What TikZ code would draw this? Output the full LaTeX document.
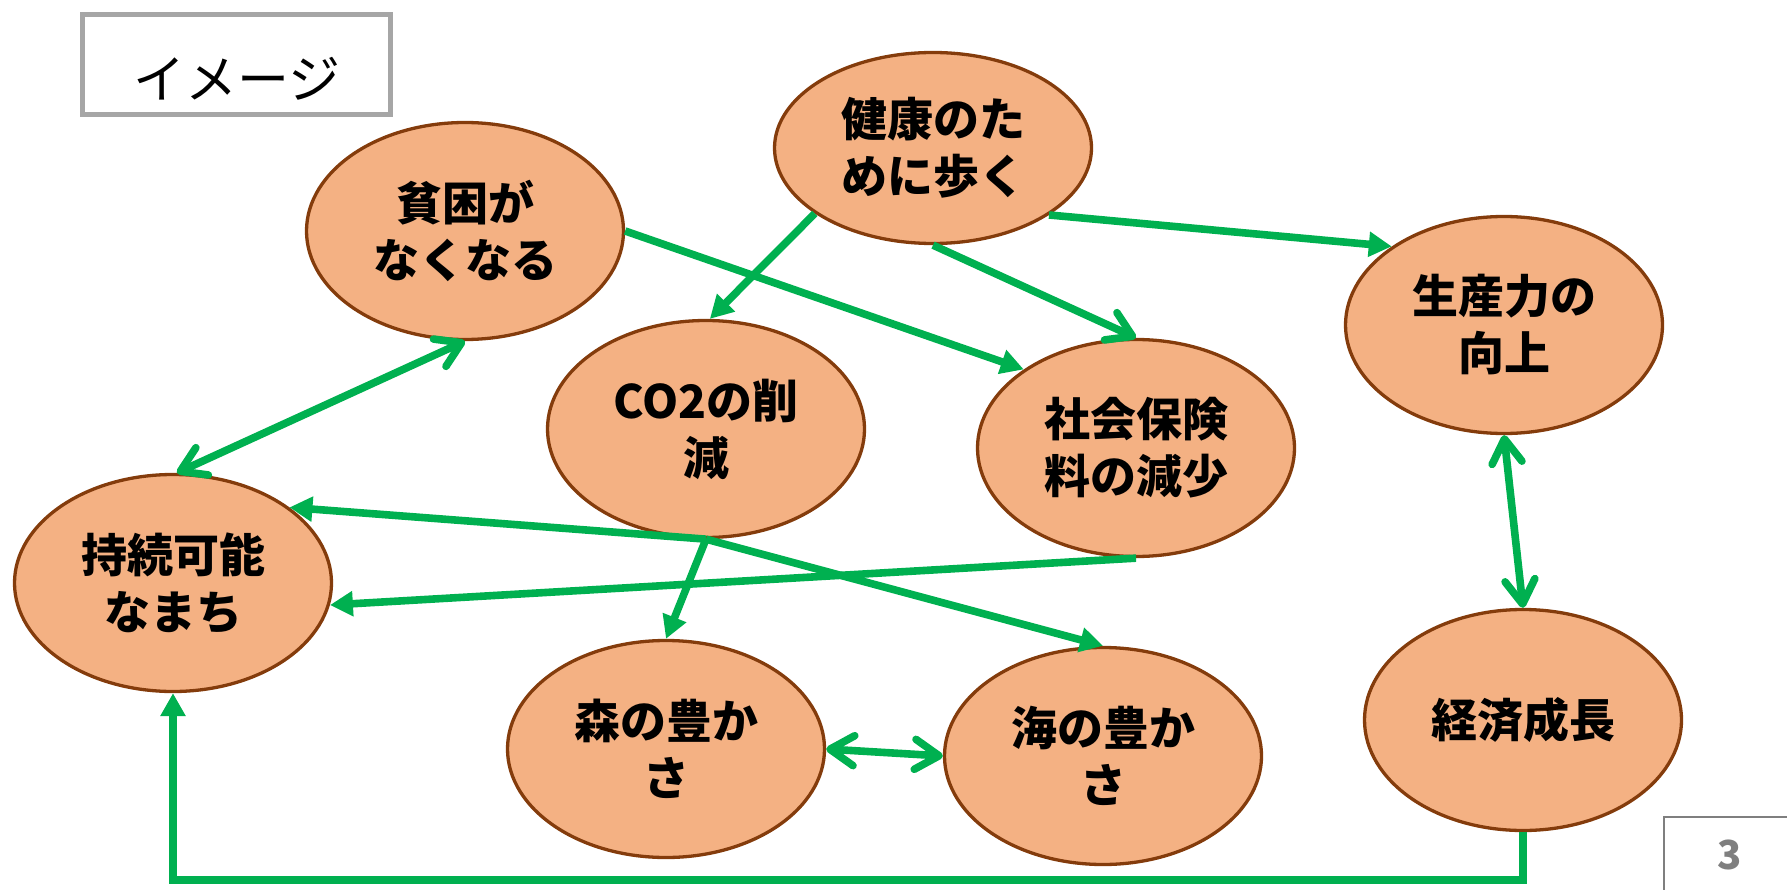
\documentclass[tikz,border=0pt]{standalone}
\usepackage{fontspec}
\newfontfamily\jp{Noto Sans CJK JP}
\usetikzlibrary{shapes.geometric,arrows.meta}
\definecolor{efill}{HTML}{F4B183}
\definecolor{edraw}{HTML}{843C0C}
\definecolor{agreen}{HTML}{00B050}
\definecolor{boxgray}{HTML}{A6A6A6}
\definecolor{numgray}{HTML}{7F7F7F}
\begin{document}
\begin{tikzpicture}[x=1pt,y=-1pt,
  bub/.style={ellipse, fill=efill, draw=edraw, line width=3.3pt,
    minimum width=317pt, minimum height=217pt, inner sep=0pt, align=center,
    font=\jp\bfseries\fontsize{46}{57}\selectfont},
  link/.style={draw=agreen, line width=7.6pt},
  tri/.style={-{Triangle[width=24pt,length=23pt]}},
  barb/.style={-{Straight Barb[length=24pt,width=30pt,round]}},
  dbarb/.style={{Straight Barb[length=24pt,width=30pt,round]}-{Straight Barb[length=24pt,width=30pt,round]}}
]
\useasboundingbox (0,0) rectangle (1787,890);
% title box
\node[draw=boxgray, line width=5pt, minimum width=308pt, minimum height=100pt, inner sep=0pt] (imgbox) at (236,65) {};
\node[font=\jp\fontsize{52}{52}\selectfont, inner sep=0pt] (imgtxt) at (237,79) {イメージ};
% page number box
\node[draw=numgray, line width=1.5pt, anchor=north west, minimum width=140pt, minimum height=90pt, inner sep=0pt] (pgbox) at (1663,816) {};
\node[font=\jp\bfseries\fontsize{40}{40}\selectfont, text=numgray, inner sep=0pt] (pgnum) at (1730,855) {3};
% bubbles
\node[bub, minimum height=191pt] (kenko) at (933,148) {健康のた\\めに歩く};
\node[bub] (hinkon) at (465,231) {貧困が\\なくなる};
\node[bub] (co2) at (706,429) {CO2の削\\減};
\node[bub] (shakai) at (1136,448) {社会保険\\料の減少};
\node[bub] (seisan) at (1504,325) {生産力の\\向上};
\node[bub] (jizoku) at (173,583) {持続可能\\なまち};
\node[bub] (mori) at (666,749) {森の豊か\\さ};
\node[bub] (umi) at (1103,756) {海の豊か\\さ};
\node[bub, minimum height=221pt] (keizai) at (1523,720) {経済成長};
% connectors
\draw[link, tri] (kenko.209.4) -- (co2.88);
\draw[link, tri] (hinkon.0) -- (shakai.145.6);
\draw[link, barb] (kenko.south) -- (shakai.north);
\draw[link, tri] (kenko.-30) -- (seisan.145);
\draw[link, dbarb] (hinkon.south) -- (jizoku.88);
\draw[link, tri] (co2.south) -- (jizoku.33.5);
\draw[link, tri] (co2.south) -- (mori.north);
\draw[link, tri] (co2.south) -- (umi.north);
\draw[link, tri] (shakai.south) -- (jizoku.-8);
\draw[link, dbarb] (mori.east) -- (umi.west);
\draw[link, dbarb] (seisan.south) -- (keizai.north);
\draw[link, tri] (keizai.south) -- ++(0,48) -| (jizoku.south);
\end{tikzpicture}
\end{document}
